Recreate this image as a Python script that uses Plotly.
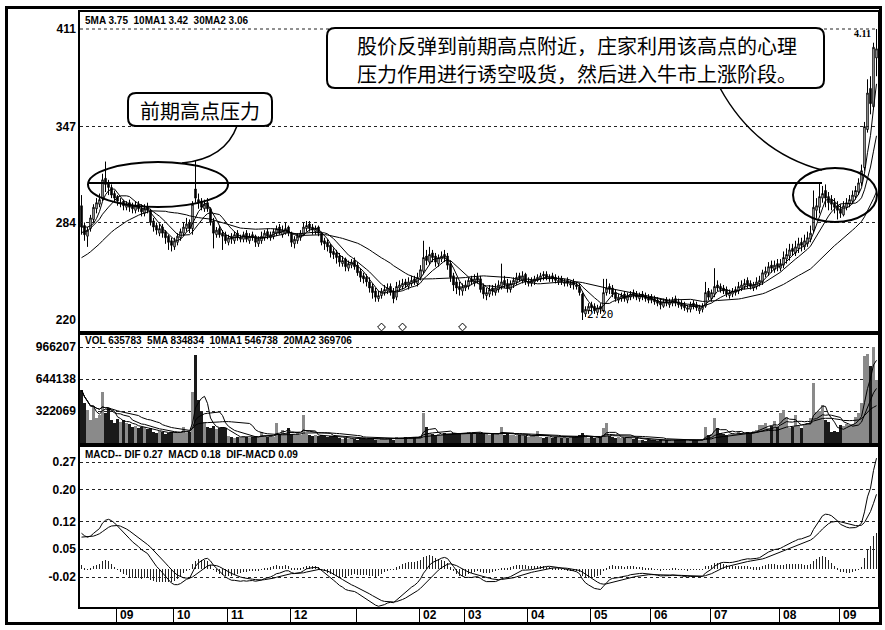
import numpy as np
import pandas as pd
import plotly.graph_objects as go

W, H = 885, 630

# ---------------- data (prices in cents, volume in thousands) ----------------
month_tick_labels = ["09", "10", "11", "12", "", "02", "03", "04", "05", "06", "07", "08", "09"]
month_start_idx = [12, 31, 49, 70, 92, 113, 128, 149, 170, 190, 210, 233, 253]

# closes before the visible window (only feed the moving averages / MACD)
hist_closes = [242, 240, 238, 241, 239, 237, 240, 238, 236, 239,
               241, 243, 240, 242, 245, 244, 247, 249, 246, 250,
               252, 251, 254, 256, 255, 258, 262, 260, 265, 268,
               266, 270, 273, 271, 276, 279, 275, 280, 283, 286]

opens = [295, 282, 275, 280, 286, 293, 296, 300, 313, 310,
         307, 303, 301, 297, 298, 294, 297, 295, 292, 296,
         293, 290, 294, 292, 285, 282, 277, 281, 278, 275,
         272, 268, 271, 274, 277, 280, 284, 280, 306, 299,
         298, 293, 297, 293, 285, 276, 280, 277, 276, 271,
         275, 272, 277, 273, 273, 277, 272, 276, 275, 270,
         272, 274, 278, 274, 275, 277, 281, 276, 277, 281,
         277, 270, 272, 274, 276, 280, 283, 281, 278, 281,
         277, 272, 271, 269, 265, 264, 262, 257, 260, 254,
         256, 259, 256, 252, 249, 248, 245, 242, 239, 234,
         236, 238, 239, 242, 239, 235, 241, 242, 245, 242,
         244, 247, 244, 248, 252, 262, 258, 264, 262, 257,
         260, 263, 262, 257, 249, 245, 242, 239, 241, 242,
         247, 244, 248, 247, 242, 236, 237, 241, 238, 240,
         242, 246, 244, 240, 243, 245, 249, 246, 250, 244,
         244, 245, 246, 247, 250, 250, 247, 249, 248, 245,
         247, 244, 246, 243, 245, 243, 242, 237, 224, 226,
         230, 229, 225, 229, 226, 238, 242, 241, 238, 233,
         234, 237, 233, 235, 238, 237, 234, 237, 236, 235,
         235, 234, 233, 232, 229, 233, 230, 231, 234, 232,
         231, 230, 227, 227, 231, 230, 226, 227, 229, 239,
         234, 237, 243, 242, 241, 240, 236, 237, 238, 239,
         241, 242, 246, 244, 241, 242, 244, 245, 250, 251,
         256, 253, 257, 254, 256, 260, 262, 267, 264, 267,
         271, 268, 270, 273, 279, 292, 294, 300, 305, 301,
         299, 297, 295, 293, 289, 294, 296, 298, 301, 304,
         310, 320, 345, 372, 360, 392]

highs = [302, 284, 281, 289, 296, 300, 303, 316, 324, 312,
         309, 305, 302, 300, 299, 298, 299, 297, 298, 298,
         296, 296, 297, 293, 287, 284, 283, 283, 279, 276,
         274, 274, 277, 280, 284, 287, 286, 298, 325, 303,
         300, 299, 300, 294, 287, 281, 282, 279, 278, 276,
         277, 278, 279, 276, 278, 279, 277, 278, 276, 275,
         278, 279, 280, 278, 280, 282, 283, 282, 284, 282,
         278, 275, 277, 279, 284, 285, 285, 283, 282, 282,
         278, 274, 273, 270, 267, 266, 264, 262, 261, 259,
         260, 261, 258, 254, 251, 250, 248, 244, 241, 239,
         241, 243, 244, 244, 241, 245, 246, 247, 247, 248,
         249, 249, 251, 256, 272, 266, 268, 266, 264, 263,
         265, 266, 264, 259, 251, 248, 245, 244, 246, 248,
         249, 250, 251, 249, 244, 241, 243, 243, 244, 246,
         257, 249, 247, 246, 248, 251, 251, 252, 251, 248,
         248, 249, 250, 251, 252, 252, 250, 251, 250, 249,
         249, 247, 248, 246, 247, 245, 244, 238, 229, 231,
         232, 231, 230, 231, 247, 247, 244, 243, 240, 237,
         238, 239, 238, 239, 240, 239, 238, 239, 238, 237,
         237, 236, 235, 234, 234, 235, 234, 235, 236, 234,
         233, 232, 230, 232, 233, 232, 230, 231, 245, 241,
         240, 254, 246, 244, 243, 242, 240, 241, 242, 245,
         246, 247, 248, 246, 245, 248, 249, 253, 255, 258,
         259, 259, 260, 260, 265, 267, 270, 270, 272, 274,
         274, 276, 278, 282, 305, 300, 310, 308, 309, 304,
         302, 300, 298, 296, 298, 300, 302, 305, 308, 313,
         322, 350, 378, 380, 402, 411]

lows = [276, 272, 268, 278, 284, 290, 294, 298, 304, 302,
        300, 297, 295, 294, 292, 292, 291, 290, 290, 291,
        288, 288, 290, 282, 278, 276, 275, 274, 270, 266,
        265, 266, 269, 272, 275, 278, 277, 276, 297, 293,
        292, 291, 291, 282, 267, 274, 274, 266, 270, 269,
        270, 270, 272, 271, 271, 271, 270, 272, 268, 268,
        270, 272, 273, 272, 273, 275, 276, 274, 276, 275,
        268, 267, 270, 272, 275, 278, 278, 276, 276, 275,
        269, 266, 265, 261, 260, 257, 255, 255, 252, 252,
        254, 253, 249, 245, 244, 242, 238, 234, 232, 232,
        234, 236, 237, 236, 231, 233, 239, 240, 241, 240,
        242, 243, 242, 246, 250, 256, 256, 258, 255, 255,
        258, 258, 253, 245, 239, 237, 236, 236, 239, 240,
        243, 242, 244, 238, 234, 233, 235, 236, 236, 238,
        240, 241, 238, 238, 241, 243, 245, 244, 243, 242,
        242, 243, 245, 245, 246, 246, 245, 245, 244, 243,
        243, 242, 242, 241, 240, 240, 236, 220, 222, 224,
        225, 224, 223, 224, 225, 236, 237, 235, 232, 231,
        232, 232, 231, 233, 234, 233, 232, 233, 232, 231,
        231, 230, 229, 227, 228, 229, 228, 229, 229, 228,
        227, 226, 225, 225, 227, 226, 224, 225, 228, 233,
        232, 235, 239, 238, 237, 235, 234, 235, 236, 237,
        239, 240, 241, 240, 239, 240, 242, 243, 248, 249,
        251, 251, 252, 252, 254, 257, 259, 262, 262, 264,
        265, 266, 268, 271, 277, 287, 290, 297, 294, 292,
        292, 290, 286, 287, 288, 292, 294, 296, 299, 302,
        308, 318, 343, 355, 358, 380]

closes = [281, 276, 279, 287, 294, 297, 299, 312, 309, 307,
          302, 300, 298, 297, 295, 296, 294, 293, 295, 293,
          291, 293, 292, 284, 281, 279, 280, 277, 274, 271,
          269, 272, 275, 278, 281, 283, 280, 296, 300, 297,
          294, 296, 293, 284, 277, 279, 276, 275, 272, 274,
          273, 276, 274, 274, 276, 273, 275, 274, 271, 273,
          275, 277, 275, 276, 278, 280, 277, 279, 280, 277,
          271, 273, 275, 277, 281, 282, 280, 279, 280, 277,
          271, 270, 268, 264, 263, 261, 258, 259, 255, 257,
          258, 255, 251, 248, 247, 245, 241, 238, 235, 236,
          239, 240, 241, 238, 234, 242, 243, 244, 243, 245,
          246, 245, 248, 253, 261, 259, 263, 261, 258, 261,
          262, 261, 256, 248, 243, 241, 240, 242, 243, 246,
          245, 247, 246, 240, 237, 238, 240, 239, 241, 243,
          245, 243, 241, 244, 246, 248, 247, 249, 245, 245,
          246, 247, 248, 249, 249, 248, 248, 247, 246, 246,
          245, 245, 244, 244, 243, 242, 238, 225, 227, 229,
          228, 226, 228, 227, 238, 241, 240, 237, 234, 235,
          236, 234, 236, 237, 236, 235, 236, 235, 234, 233,
          233, 232, 231, 230, 232, 231, 232, 233, 231, 230,
          229, 228, 228, 230, 229, 228, 228, 229, 238, 235,
          238, 242, 241, 240, 239, 237, 238, 239, 240, 242,
          243, 244, 243, 242, 243, 245, 246, 251, 252, 255,
          254, 256, 255, 257, 261, 263, 266, 265, 268, 270,
          269, 272, 274, 277, 294, 295, 301, 303, 300, 297,
          296, 294, 292, 290, 295, 297, 299, 302, 305, 310,
          318, 347, 369, 362, 399, 398]

volumes_k = [533, 400, 330, 230, 360, 250, 280, 513, 300, 350,
             230, 200, 240, 210, 230, 200, 190, 160, 170, 150,
             165, 160, 140, 150, 110, 100, 120, 110, 95, 105,
             110, 100, 115, 110, 160, 100, 110, 513, 885, 430,
             310, 210, 160, 150, 170, 140, 155, 160, 150, 70,
             60, 55, 65, 60, 75, 60, 55, 65, 70, 60,
             110, 70, 60, 80, 65, 200, 90, 130, 100, 150,
             90, 80, 100, 85, 280, 90, 80, 70, 85, 75,
             80, 70, 65, 75, 70, 60, 50, 45, 55, 40,
             50, 45, 35, 40, 50, 45, 55, 40, 30, 35,
             45, 40, 50, 45, 35, 60, 55, 50, 60, 55,
             65, 60, 55, 70, 300, 160, 100, 90, 80, 95,
             85, 100, 95, 90, 105, 100, 90, 95, 100, 110,
             100, 95, 90, 100, 95, 90, 85, 95, 90, 100,
             160, 80, 90, 80, 85, 75, 80, 70, 75, 65,
             70, 80, 120, 60, 55, 60, 65, 55, 60, 50,
             55, 60, 55, 60, 65, 70, 80, 100, 60, 55,
             60, 50, 55, 60, 150, 200, 70, 60, 55, 60,
             50, 55, 60, 50, 45, 50, 35, 30, 25, 30,
             35, 30, 25, 30, 28, 32, 30, 25, 30, 35,
             28, 30, 25, 30, 32, 28, 30, 35, 160, 80,
             90, 250, 150, 100, 90, 80, 95, 100, 90, 110,
             100, 95, 110, 105, 120, 130, 180, 180, 200, 150,
             170, 220, 160, 300, 330, 260, 150, 160, 280, 170,
             150, 180, 200, 250, 600, 310, 320, 380, 230, 210,
             110, 120, 110, 180, 170, 190, 180, 190, 260, 300,
             400, 880, 900, 780, 966, 636]

event_idx = [100, 107, 127]

price_ticks = [2.20, 2.84, 3.47, 4.11]
price_tick_text = ["220", "284", "347", "411"]
vol_ticks = [322069, 644138, 966207]
vol_tick_text = ["322069", "644138", "966207"]
macd_ticks = [-0.02, 0.05, 0.12, 0.20, 0.27]
macd_tick_text = ["-0.02", "0.05", "0.12", "0.20", "0.27"]
pressure_level = 3.10

price_legend = "5MA 3.75  10MA1 3.42  30MA2 3.06"
vol_legend = "VOL 635783  5MA 834834  10MA1 546738  20MA2 369706"
macd_legend = "MACD-- DIF 0.27  MACD 0.18  DIF-MACD 0.09"
note_small = "前期高点压力"
note_big_1 = "股价反弹到前期高点附近，庄家利用该高点的心理"
note_big_2 = "压力作用进行诱空吸货，然后进入牛市上涨阶段。"

# ---------------- derived series ----------------
o = np.array(opens) / 100
h = np.array(highs) / 100
l = np.array(lows) / 100
c = np.array(closes) / 100
vol = np.array(volumes_k) * 1000.0
N = len(c)
idx = np.arange(N)
nh = len(hist_closes)

allc = pd.Series(np.array(hist_closes + closes) / 100.0)
ma5 = allc.rolling(5).mean().values[nh:]
ma10 = allc.rolling(10).mean().values[nh:]
ma30 = allc.rolling(30).mean().values[nh:]
ema12 = allc.ewm(span=12, adjust=False).mean()
ema26 = allc.ewm(span=26, adjust=False).mean()
dif_s = ema12 - ema26
dea_s = dif_s.ewm(span=9, adjust=False).mean()
dif = dif_s.values[nh:]
dea = dea_s.values[nh:]
macd_bar = dif - dea

vs = pd.Series(vol)
vma5 = vs.rolling(5, min_periods=1).mean().values
vma10 = vs.rolling(10, min_periods=1).mean().values
vma20 = vs.rolling(20, min_periods=1).mean().values

# ---------------- pixel helpers ----------------
def X(px):
    return px / W


def Y(py):
    return 1 - py / H


def ydom(top, bottom):
    return [Y(bottom), Y(top)]


# axis scales from tick pixel positions in the reference
kp = (4.11 - 2.20) / (320 - 29)
price_range = [2.20 - (333 - 320) * kp, 4.11 + (29 - 12) * kp]
kv = (966207 - 322069) / (411 - 347)
vol_range = [(443 - 445) * kv, (443 - 333) * kv]
km = (0.27 - (-0.02)) / (577 - 462)
macd_range = [-0.02 - (607 - 577) * km, 0.27 + (462 - 445) * km]

BOLD12 = dict(family="Arial, Liberation Sans, sans-serif", size=12, color="black", weight="bold")
SMALL = dict(family="Arial, Liberation Sans, sans-serif", size=10, color="black", weight="bold")
CJK = dict(family="Noto Sans CJK SC, sans-serif", size=20, color="black")

line_k = dict(color="black", width=1)

fig = go.Figure()

# price panel
fig.add_trace(go.Candlestick(
    x=idx, open=o, high=h, low=l, close=c, xaxis="x", yaxis="y",
    increasing=dict(line=dict(color="black", width=1), fillcolor="white"),
    decreasing=dict(line=dict(color="black", width=1), fillcolor="black"),
    whiskerwidth=0, showlegend=False, hoverinfo="skip"))
for ma in (ma5, ma10, ma30):
    fig.add_trace(go.Scatter(x=idx, y=ma, mode="lines", line=line_k, xaxis="x", yaxis="y",
                             showlegend=False, hoverinfo="skip"))
fig.add_trace(go.Scatter(x=event_idx, y=[price_range[0] + 6 * kp] * len(event_idx), mode="markers",
                         marker=dict(symbol="diamond-open", size=6, color="black", line=dict(width=1)),
                         xaxis="x", yaxis="y", showlegend=False, hoverinfo="skip"))

# volume panel
vcol = ["#8a8a8a" if cc >= oo else "#1a1a1a" for oo, cc in zip(o, c)]
fig.add_trace(go.Bar(x=idx, y=vol, width=0.72, marker=dict(color=vcol, line=dict(width=0)),
                     xaxis="x2", yaxis="y2", showlegend=False, hoverinfo="skip"))
for ma in (vma5, vma10, vma20):
    fig.add_trace(go.Scatter(x=idx, y=ma, mode="lines", line=line_k, xaxis="x2", yaxis="y2",
                             showlegend=False, hoverinfo="skip"))

# MACD panel
fig.add_trace(go.Bar(x=idx, y=macd_bar, width=0.3, marker=dict(color="#222", line=dict(width=0)),
                     xaxis="x3", yaxis="y3", showlegend=False, hoverinfo="skip"))
for ln in (dif, dea):
    fig.add_trace(go.Scatter(x=idx, y=ln, mode="lines", line=line_k, xaxis="x3", yaxis="y3",
                             showlegend=False, hoverinfo="skip"))

xdom = [X(80), X(878)]
axis_common = dict(domain=xdom, range=[-0.5, N - 0.5], showgrid=False, zeroline=False,
                   showline=True, mirror=True, linecolor="black", linewidth=1.5,
                   showticklabels=False, ticks="")
ycommon = dict(zeroline=False, showline=True, mirror=True, linecolor="black", linewidth=1.5,
               ticks="", tickfont=BOLD12, griddash="dot", gridcolor="#222", gridwidth=1)

fig.update_layout(
    width=W, height=H, margin=dict(l=0, r=0, t=0, b=0),
    paper_bgcolor="white", plot_bgcolor="white", showlegend=False, bargap=0,
    xaxis=dict(**axis_common, anchor="y", rangeslider=dict(visible=False)),
    xaxis2=dict(**axis_common, anchor="y2", matches="x"),
    xaxis3=dict(domain=xdom, range=[-0.5, N - 0.5], showgrid=False, zeroline=False,
                showline=True, mirror=True, linecolor="black", linewidth=1.5, matches="x",
                anchor="y3", ticks="outside", ticklen=13, tickcolor="black", tickwidth=1,
                tickvals=[m - 0.5 for m in month_start_idx], showticklabels=False),
    yaxis=dict(**ycommon, domain=ydom(12, 333), range=price_range, tickvals=price_ticks,
               ticktext=price_tick_text, showgrid=False, anchor="x"),
    yaxis2=dict(**ycommon, domain=ydom(333, 445), range=vol_range, tickvals=vol_ticks,
                ticktext=vol_tick_text, showgrid=True, anchor="x2"),
    yaxis3=dict(**ycommon, domain=ydom(445, 607), range=macd_range, tickvals=macd_ticks,
                ticktext=macd_tick_text, showgrid=True, anchor="x3"),
)

shapes = []
# dotted price grid (upper levels)
for v in price_ticks[1:]:
    shapes.append(dict(type="line", xref="x domain", yref="y", x0=0, x1=1, y0=v, y1=v,
                       line=dict(color="#222", width=1, dash="dot")))
# outer frame
shapes.append(dict(type="rect", xref="paper", yref="paper", x0=X(6.5), x1=X(880.5),
                   y0=Y(623.5), y1=Y(7.5), line=dict(color="black", width=3)))
# pressure line
shapes.append(dict(type="line", xref="paper", yref="y", x0=X(88), x1=X(822),
                   y0=pressure_level, y1=pressure_level, line=dict(color="black", width=2)))
# ellipses
shapes.append(dict(type="circle", xref="paper", yref="paper", x0=X(88), x1=X(228),
                   y0=Y(207), y1=Y(162), line=dict(color="black", width=2)))
shapes.append(dict(type="circle", xref="paper", yref="paper", x0=X(793), x1=X(877),
                   y0=Y(222), y1=Y(168), line=dict(color="black", width=2)))


def rrect(x0, y0, x1, y1, r):
    return (f"M {X(x0 + r)},{Y(y0)} L {X(x1 - r)},{Y(y0)} Q {X(x1)},{Y(y0)} {X(x1)},{Y(y0 + r)} "
            f"L {X(x1)},{Y(y1 - r)} Q {X(x1)},{Y(y1)} {X(x1 - r)},{Y(y1)} "
            f"L {X(x0 + r)},{Y(y1)} Q {X(x0)},{Y(y1)} {X(x0)},{Y(y1 - r)} "
            f"L {X(x0)},{Y(y0 + r)} Q {X(x0)},{Y(y0)} {X(x0 + r)},{Y(y0)} Z")


shapes.append(dict(type="path", xref="paper", yref="paper", path=rrect(128, 93, 272, 126, 8),
                   line=dict(color="black", width=2), fillcolor="white"))
shapes.append(dict(type="path", xref="paper", yref="paper", path=rrect(327, 28, 824, 88, 8),
                   line=dict(color="black", width=2), fillcolor="white"))
# connector curves
shapes.append(dict(type="path", xref="paper", yref="paper",
                   path=f"M {X(237)},{Y(126)} Q {X(225)},{Y(159)} {X(182)},{Y(163)}",
                   line=dict(color="black", width=1.5)))
shapes.append(dict(type="path", xref="paper", yref="paper",
                   path=f"M {X(720)},{Y(88)} Q {X(755)},{Y(152)} {X(822)},{Y(170)}",
                   line=dict(color="black", width=1.5)))
fig.update_layout(shapes=shapes)

ann = []
ann.append(dict(x=X(83), y=Y(20), xref="paper", yref="paper", text=price_legend, showarrow=False,
                xanchor="left", yanchor="middle", font=SMALL))
ann.append(dict(x=X(83), y=Y(340), xref="paper", yref="paper", text=vol_legend, showarrow=False,
                xanchor="left", yanchor="middle", font=SMALL))
ann.append(dict(x=X(83), y=Y(454), xref="paper", yref="paper", text=macd_legend, showarrow=False,
                xanchor="left", yanchor="middle", font=SMALL))
ann.append(dict(x=X(200), y=Y(110), xref="paper", yref="paper", text=note_small, showarrow=False,
                xanchor="center", yanchor="middle", font=CJK))
ann.append(dict(x=X(577), y=Y(46), xref="paper", yref="paper", text=note_big_1, showarrow=False,
                xanchor="center", yanchor="middle", font=CJK))
ann.append(dict(x=X(577), y=Y(73), xref="paper", yref="paper", text=note_big_2, showarrow=False,
                xanchor="center", yanchor="middle", font=CJK))
ann.append(dict(x=X(873), y=Y(33), xref="paper", yref="paper", text="4.11", showarrow=False,
                xanchor="right", yanchor="middle",
                font=dict(family="Liberation Serif, serif", size=10, color="black", weight="bold")))
ann.append(dict(x=X(585), y=Y(314), xref="paper", yref="paper", text="2.20", showarrow=False,
                xanchor="left", yanchor="middle",
                font=dict(family="DejaVu Sans Mono, monospace", size=11, color="black")))
for m, lab in zip(month_start_idx, month_tick_labels):
    if lab:
        ann.append(dict(x=m - 0.5, y=Y(615), xref="x3", yref="paper", text=lab, showarrow=False,
                        xanchor="left", yanchor="middle", xshift=2, font=BOLD12))
fig.update_layout(annotations=ann)

fig.write_html("out.html", config={"displayModeBar": False},
               post_script="document.body.style.margin='0';document.body.style.overflow='hidden';")
